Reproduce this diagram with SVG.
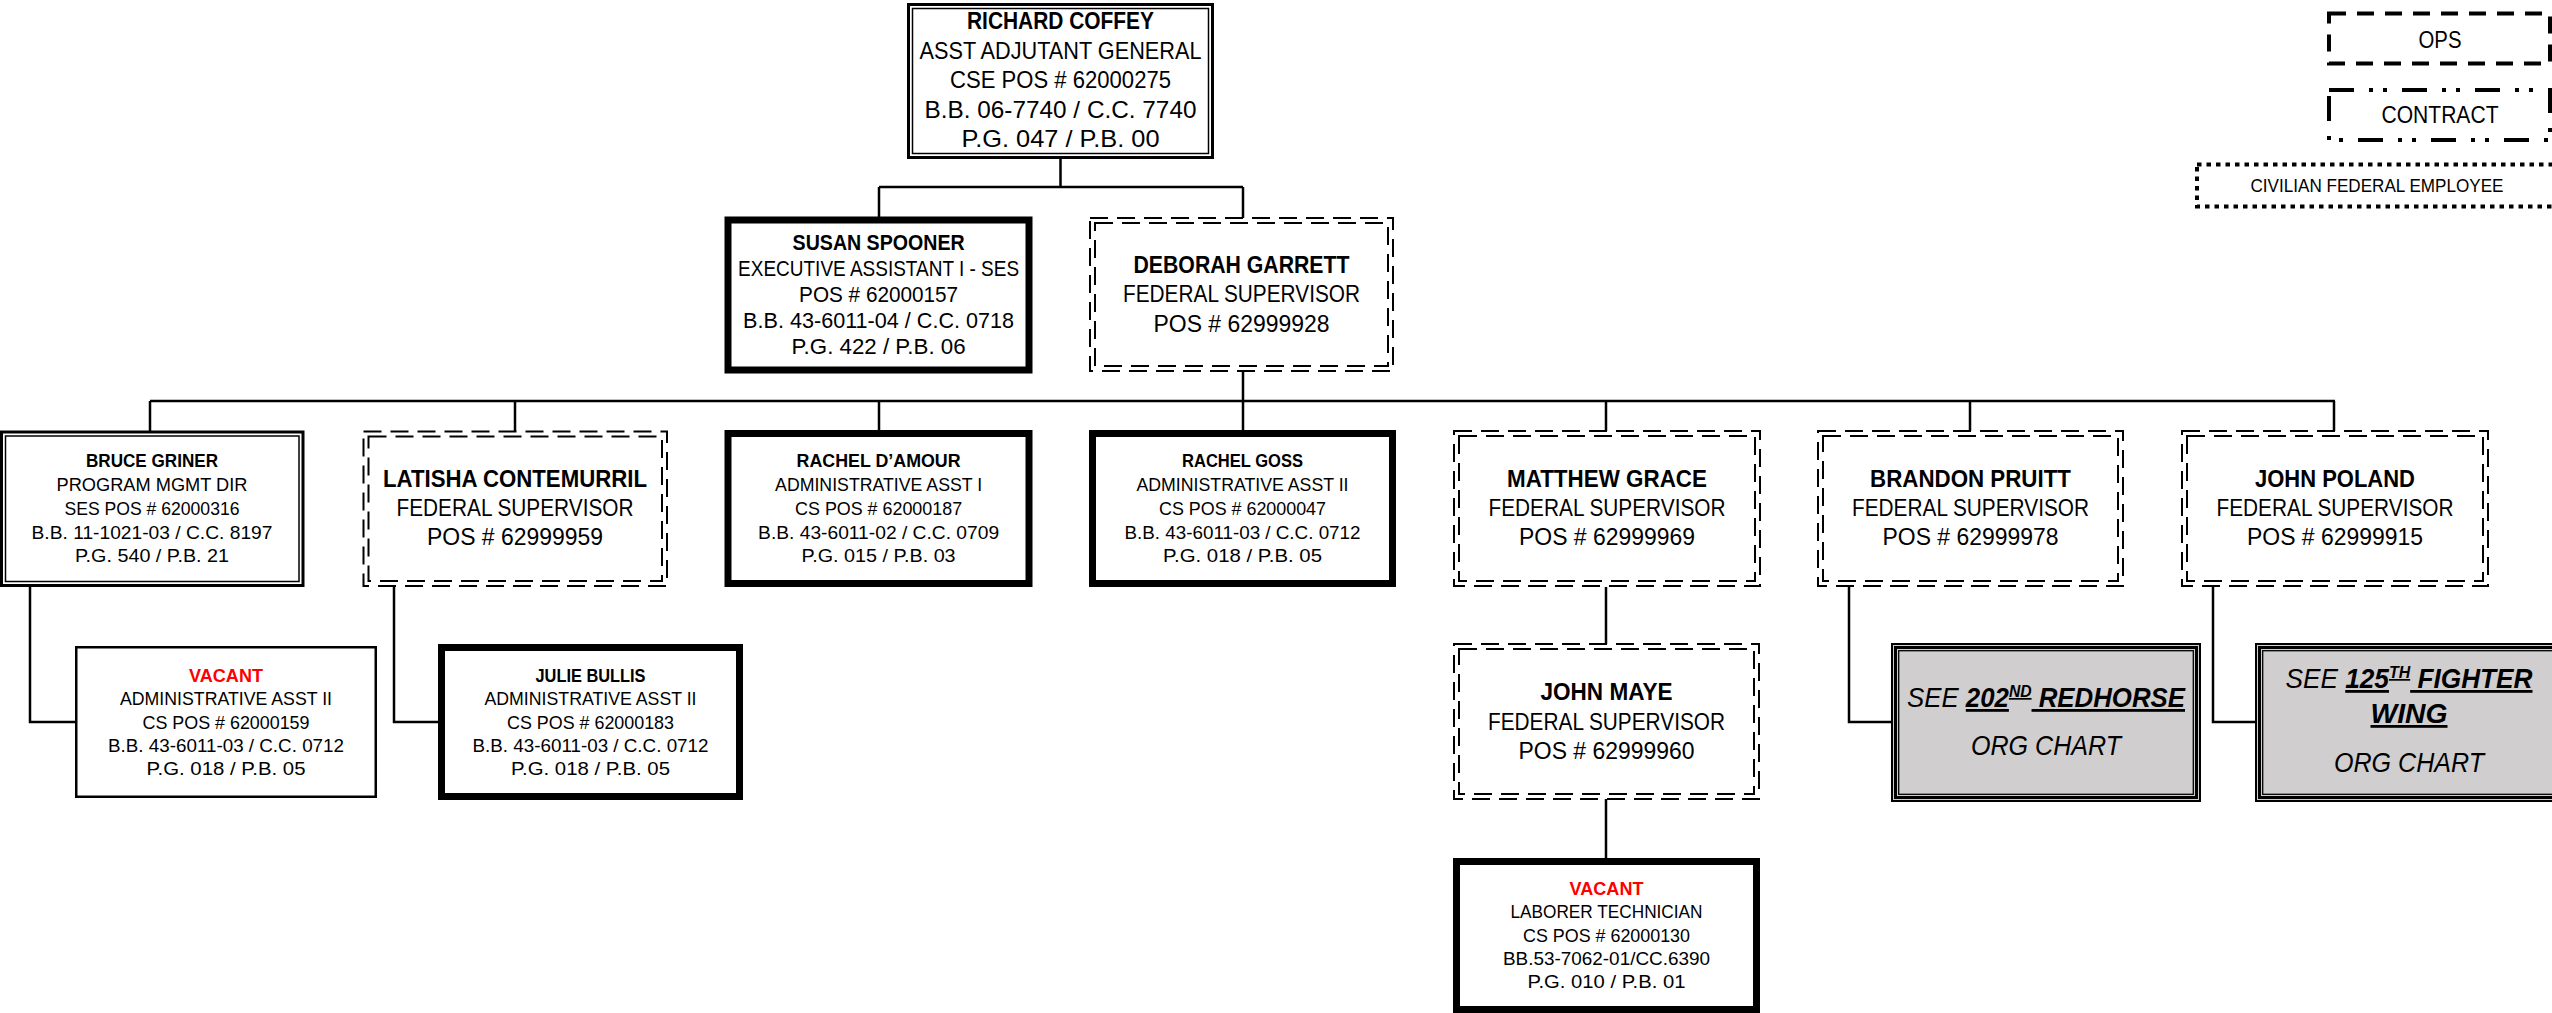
<svg xmlns="http://www.w3.org/2000/svg" width="2552" height="1013" viewBox="0 0 2552 1013" xml:space="preserve">
<style>
.t{font-family:"Liberation Sans",Arial,sans-serif;text-anchor:middle;fill:#000}
.b{font-weight:bold}
.i{font-style:italic}
.u{text-decoration:underline}
.red{fill:#ff0000}
.s19{font-size:19px}.s21{font-size:21.6px}.s24{font-size:23.8px}.s28{font-size:28px}
.conn{fill:none;stroke:#000;stroke-width:2.5}
.thick{fill:#fff;stroke:#000;stroke-width:7}
.thin{fill:#fff;stroke:#000;stroke-width:2.5}
.dblo{fill:#fff;stroke:#000;stroke-width:3}
.dbli{fill:none;stroke:#000;stroke-width:1.5}
.dsh{fill:#fff;stroke:#000;stroke-width:2;stroke-dasharray:18 9}
.dshi{fill:none;stroke:#000;stroke-width:2;stroke-dasharray:18 9}
.tro{fill:#d0cece;stroke:#000;stroke-width:2}
.trm{fill:none;stroke:#000;stroke-width:3}
.tri{fill:none;stroke:#000;stroke-width:1.3}
.ops{fill:#fff;stroke:#000;stroke-width:4;stroke-dasharray:17 11}
.ctr{fill:#fff;stroke:#000;stroke-width:4;stroke-dasharray:25 15 4 10 4 15}
.civ{fill:#fff;stroke:#000;stroke-width:4;stroke-dasharray:4.5 5}
</style>
<rect width="2552" height="1013" fill="#fff"/>

<g id="connectors">
<path class="conn" d="M1060.5 159V187M879 187H1243M879 187V217M1243 187V218"/>
<path class="conn" d="M1243 372V401M150 401H2335"/>
<path class="conn" d="M150 401V431M515 401V431M879 401V431M1243 401V431M1606 401V431M1970 401V431M2334 401V431"/>
<path class="conn" d="M30 587V722H76"/>
<path class="conn" d="M394 587V722H439"/>
<path class="conn" d="M1606 587V644M1606 799V859"/>
<path class="conn" d="M1849 587V722H1892"/>
<path class="conn" d="M2213 587V722H2256"/>
</g>

<g id="richard-coffey">
<rect class="dblo" x="908.5" y="4.5" width="304" height="153"/>
<rect class="dbli" x="912.5" y="8.5" width="296" height="145"/>
<text class="t s24 b" x="1060.5" y="29" textLength="187" lengthAdjust="spacingAndGlyphs">RICHARD COFFEY</text>
<text class="t s24" x="1060.5" y="58.5" textLength="282" lengthAdjust="spacingAndGlyphs">ASST ADJUTANT GENERAL</text>
<text class="t s24" x="1060.5" y="88" textLength="221" lengthAdjust="spacingAndGlyphs">CSE POS # 62000275</text>
<text class="t s24" x="1060.5" y="117.5" textLength="272" lengthAdjust="spacingAndGlyphs">B.B. 06-7740  /  C.C. 7740</text>
<text class="t s24" x="1060.5" y="147" textLength="198" lengthAdjust="spacingAndGlyphs">P.G. 047  /  P.B. 00</text>
</g>

<g id="susan-spooner">
<rect class="thick" x="728" y="220" width="301" height="150"/>
<text class="t s21 b" x="878.6" y="250" textLength="172" lengthAdjust="spacingAndGlyphs">SUSAN SPOONER</text>
<text class="t s21" x="878.6" y="276" textLength="281" lengthAdjust="spacingAndGlyphs">EXECUTIVE ASSISTANT I - SES</text>
<text class="t s21" x="878.6" y="302" textLength="159" lengthAdjust="spacingAndGlyphs">POS # 62000157</text>
<text class="t s21" x="878.6" y="328" textLength="271" lengthAdjust="spacingAndGlyphs">B.B. 43-6011-04 /  C.C. 0718</text>
<text class="t s21" x="878.6" y="354" textLength="174" lengthAdjust="spacingAndGlyphs">P.G. 422 /  P.B. 06</text>
</g>

<g id="deborah-garrett">
<rect class="dsh" x="1090" y="218" width="303" height="153"/>
<rect class="dshi" x="1095" y="223" width="293" height="143"/>
<text class="t s24 b" x="1241.5" y="273" textLength="216" lengthAdjust="spacingAndGlyphs">DEBORAH GARRETT</text>
<text class="t s24" x="1241.5" y="302" textLength="237" lengthAdjust="spacingAndGlyphs">FEDERAL SUPERVISOR</text>
<text class="t s24" x="1241.5" y="331.5" textLength="176" lengthAdjust="spacingAndGlyphs">POS # 62999928</text>
</g>

<g id="bruce-griner">
<rect class="dblo" x="1.5" y="432" width="301.5" height="153.5"/>
<rect class="dbli" x="5.5" y="436" width="293.5" height="145.5"/>
<text class="t s19 b" x="152" y="467" textLength="132" lengthAdjust="spacingAndGlyphs">BRUCE GRINER</text>
<text class="t s19" x="152" y="491" textLength="191" lengthAdjust="spacingAndGlyphs">PROGRAM MGMT DIR</text>
<text class="t s19" x="152" y="515" textLength="175" lengthAdjust="spacingAndGlyphs">SES POS # 62000316</text>
<text class="t s19" x="152" y="538.5" textLength="241" lengthAdjust="spacingAndGlyphs">B.B. 11-1021-03 /  C.C. 8197</text>
<text class="t s19" x="152" y="562" textLength="154" lengthAdjust="spacingAndGlyphs">P.G. 540 /  P.B. 21</text>
</g>

<g id="latisha-contemurril">
<rect class="dsh" x="363.5" y="431.5" width="303.5" height="154.5"/>
<rect class="dshi" x="368.5" y="436.5" width="293.5" height="144.5"/>
<text class="t s24 b" x="515" y="487" textLength="264" lengthAdjust="spacingAndGlyphs">LATISHA CONTEMURRIL</text>
<text class="t s24" x="515" y="516" textLength="237" lengthAdjust="spacingAndGlyphs">FEDERAL SUPERVISOR</text>
<text class="t s24" x="515" y="545" textLength="176" lengthAdjust="spacingAndGlyphs">POS # 62999959</text>
</g>

<g id="rachel-damour">
<rect class="thick" x="728" y="433.5" width="301" height="150"/>
<text class="t s19 b" x="878.6" y="467" textLength="164" lengthAdjust="spacingAndGlyphs">RACHEL D’AMOUR</text>
<text class="t s19" x="878.6" y="490.5" textLength="207" lengthAdjust="spacingAndGlyphs">ADMINISTRATIVE ASST I</text>
<text class="t s19" x="878.6" y="515" textLength="167" lengthAdjust="spacingAndGlyphs">CS POS # 62000187</text>
<text class="t s19" x="878.6" y="538.5" textLength="241" lengthAdjust="spacingAndGlyphs">B.B. 43-6011-02 /  C.C. 0709</text>
<text class="t s19" x="878.6" y="562" textLength="154" lengthAdjust="spacingAndGlyphs">P.G. 015 /  P.B. 03</text>
</g>

<g id="rachel-goss">
<rect class="thick" x="1092.5" y="433.5" width="300" height="150"/>
<text class="t s19 b" x="1242.5" y="467" textLength="121" lengthAdjust="spacingAndGlyphs">RACHEL GOSS</text>
<text class="t s19" x="1242.5" y="490.5" textLength="212" lengthAdjust="spacingAndGlyphs">ADMINISTRATIVE ASST II</text>
<text class="t s19" x="1242.5" y="515" textLength="167" lengthAdjust="spacingAndGlyphs">CS POS # 62000047</text>
<text class="t s19" x="1242.5" y="538.5" textLength="236" lengthAdjust="spacingAndGlyphs">B.B. 43-6011-03 / C.C. 0712</text>
<text class="t s19" x="1242.5" y="562" textLength="159" lengthAdjust="spacingAndGlyphs">P.G. 018 /  P.B.  05</text>
</g>

<g id="matthew-grace">
<rect class="dsh" x="1454" y="431" width="306" height="155"/>
<rect class="dshi" x="1459" y="436" width="296" height="145"/>
<text class="t s24 b" x="1607" y="487" textLength="200" lengthAdjust="spacingAndGlyphs">MATTHEW GRACE</text>
<text class="t s24" x="1607" y="516" textLength="237" lengthAdjust="spacingAndGlyphs">FEDERAL SUPERVISOR</text>
<text class="t s24" x="1607" y="545" textLength="176" lengthAdjust="spacingAndGlyphs">POS # 62999969</text>
</g>

<g id="brandon-pruitt">
<rect class="dsh" x="1818" y="431" width="305" height="155"/>
<rect class="dshi" x="1823" y="436" width="295" height="145"/>
<text class="t s24 b" x="1970.5" y="487" textLength="201" lengthAdjust="spacingAndGlyphs">BRANDON PRUITT</text>
<text class="t s24" x="1970.5" y="516" textLength="237" lengthAdjust="spacingAndGlyphs">FEDERAL SUPERVISOR</text>
<text class="t s24" x="1970.5" y="545" textLength="176" lengthAdjust="spacingAndGlyphs">POS # 62999978</text>
</g>

<g id="john-poland">
<rect class="dsh" x="2182" y="431" width="306" height="155"/>
<rect class="dshi" x="2187" y="436" width="296" height="145"/>
<text class="t s24 b" x="2335" y="487" textLength="160" lengthAdjust="spacingAndGlyphs">JOHN POLAND</text>
<text class="t s24" x="2335" y="516" textLength="237" lengthAdjust="spacingAndGlyphs">FEDERAL SUPERVISOR</text>
<text class="t s24" x="2335" y="545" textLength="176" lengthAdjust="spacingAndGlyphs">POS # 62999915</text>
</g>

<g id="vacant-admin-asst">
<rect class="thin" x="76.25" y="647.25" width="299.5" height="149.5"/>
<text class="t s19 b red" x="226" y="682" textLength="74" lengthAdjust="spacingAndGlyphs">VACANT</text>
<text class="t s19" x="226" y="705" textLength="212" lengthAdjust="spacingAndGlyphs">ADMINISTRATIVE ASST II</text>
<text class="t s19" x="226" y="728.5" textLength="167" lengthAdjust="spacingAndGlyphs">CS POS # 62000159</text>
<text class="t s19" x="226" y="752" textLength="236" lengthAdjust="spacingAndGlyphs">B.B. 43-6011-03 / C.C. 0712</text>
<text class="t s19" x="226" y="775" textLength="159" lengthAdjust="spacingAndGlyphs">P.G. 018 /  P.B.  05</text>
</g>

<g id="julie-bullis">
<rect class="thick" x="441.5" y="647.5" width="298" height="149"/>
<text class="t s19 b" x="590.5" y="682" textLength="110" lengthAdjust="spacingAndGlyphs">JULIE BULLIS</text>
<text class="t s19" x="590.5" y="705" textLength="212" lengthAdjust="spacingAndGlyphs">ADMINISTRATIVE ASST II</text>
<text class="t s19" x="590.5" y="728.5" textLength="167" lengthAdjust="spacingAndGlyphs">CS POS # 62000183</text>
<text class="t s19" x="590.5" y="752" textLength="236" lengthAdjust="spacingAndGlyphs">B.B. 43-6011-03 / C.C. 0712</text>
<text class="t s19" x="590.5" y="775" textLength="159" lengthAdjust="spacingAndGlyphs">P.G. 018 /  P.B.  05</text>
</g>

<g id="john-maye">
<rect class="dsh" x="1454" y="644" width="305" height="155"/>
<rect class="dshi" x="1459" y="649" width="295" height="145"/>
<text class="t s24 b" x="1606.5" y="700" textLength="132" lengthAdjust="spacingAndGlyphs">JOHN MAYE</text>
<text class="t s24" x="1606.5" y="730" textLength="237" lengthAdjust="spacingAndGlyphs">FEDERAL SUPERVISOR</text>
<text class="t s24" x="1606.5" y="759" textLength="176" lengthAdjust="spacingAndGlyphs">POS # 62999960</text>
</g>

<g id="vacant-laborer">
<rect class="thick" x="1456.5" y="861.5" width="300" height="148"/>
<text class="t s19 b red" x="1606.5" y="895" textLength="74" lengthAdjust="spacingAndGlyphs">VACANT</text>
<text class="t s19" x="1606.5" y="918" textLength="192" lengthAdjust="spacingAndGlyphs">LABORER TECHNICIAN</text>
<text class="t s19" x="1606.5" y="942" textLength="167" lengthAdjust="spacingAndGlyphs">CS POS # 62000130</text>
<text class="t s19" x="1606.5" y="965" textLength="207" lengthAdjust="spacingAndGlyphs">BB.53-7062-01/CC.6390</text>
<text class="t s19" x="1606.5" y="988" textLength="158" lengthAdjust="spacingAndGlyphs">P.G. 010  /  P.B. 01</text>
</g>

<g id="see-202nd-redhorse">
<rect class="tro" x="1892" y="644" width="308" height="157"/>
<rect class="trm" x="1895.5" y="647.5" width="301" height="150"/>
<rect class="tri" x="1898.7" y="650.7" width="294.6" height="143.6"/>
<text class="t s28 i" x="2046" y="707" textLength="278" lengthAdjust="spacingAndGlyphs">SEE <tspan class="b u">202<tspan font-size="17" baseline-shift="10">ND</tspan> REDHORSE</tspan></text>
<text class="t s28 i" x="2046" y="755" textLength="150" lengthAdjust="spacingAndGlyphs">ORG CHART</text>
</g>

<g id="see-125th-fighter-wing">
<rect class="tro" x="2256" y="644" width="308" height="157"/>
<rect class="trm" x="2259.5" y="647.5" width="301" height="150"/>
<rect class="tri" x="2262.7" y="650.7" width="294.6" height="143.6"/>
<text class="t s28 i" x="2409" y="688" textLength="247" lengthAdjust="spacingAndGlyphs">SEE <tspan class="b u">125<tspan font-size="17" baseline-shift="10">TH</tspan> FIGHTER</tspan></text>
<text class="t s28 i b u" x="2409" y="723" textLength="77" lengthAdjust="spacingAndGlyphs">WING</text>
<text class="t s28 i" x="2409" y="772" textLength="150" lengthAdjust="spacingAndGlyphs">ORG CHART</text>
</g>

<g id="legend">
<rect class="ops" x="2329" y="13.5" width="221" height="50"/>
<text class="t s24" x="2440" y="48" textLength="43" lengthAdjust="spacingAndGlyphs">OPS</text>
<rect class="ctr" x="2329" y="90" width="221" height="50"/>
<text class="t s24" x="2440" y="123" textLength="117" lengthAdjust="spacingAndGlyphs">CONTRACT</text>
<rect class="civ" x="2197" y="164.5" width="370" height="42"/>
<text class="t s19" x="2377" y="192" textLength="253" lengthAdjust="spacingAndGlyphs">CIVILIAN FEDERAL EMPLOYEE</text>
</g>
</svg>
